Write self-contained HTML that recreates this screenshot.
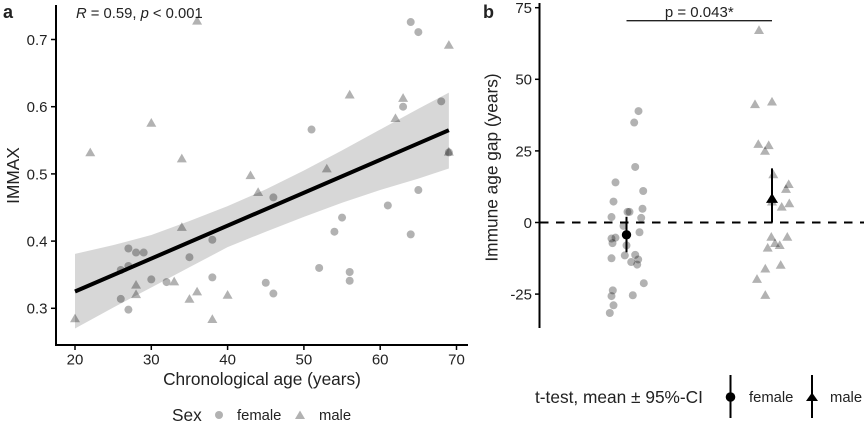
<!DOCTYPE html>
<html>
<head>
<meta charset="utf-8">
<style>
html,body{margin:0;padding:0;background:#fff;}
svg{display:block;}
text{font-family:"Liberation Sans",Arial,sans-serif;fill:#222;}
</style>
</head>
<body>
<svg id="fig" width="865" height="423" viewBox="0 0 865 423" xmlns="http://www.w3.org/2000/svg">
  <text x="3" y="18" font-size="18" font-weight="bold" fill="#111">a</text>
  <text x="483" y="18" font-size="18" font-weight="bold" fill="#111">b</text>
  <text x="76" y="18" font-size="14.8"><tspan font-style="italic">R</tspan> = 0.59, <tspan font-style="italic">p</tspan> &lt; 0.001</text>
  <text x="262" y="385" font-size="17.3" text-anchor="middle">Chronological age (years)</text>
  <text transform="translate(19,175.5) rotate(-90)" font-size="17.3" text-anchor="middle">IMMAX</text>
  <text transform="translate(497.5,167.5) rotate(-90)" font-size="17.3" text-anchor="middle">Immune age gap (years)</text>
  <g id="layerA"></g>
  <g id="layerB"></g>
  <g>
    <text x="172" y="421" font-size="17.3">Sex</text>
    <circle cx="219" cy="415" r="4" fill="#000" fill-opacity="0.3"/>
    <text x="237" y="420" font-size="14.8">female</text>
    <polygon points="295,419 305,419 300,410.5" fill="#000" fill-opacity="0.3"/>
    <text x="319" y="420" font-size="14.8">male</text>
  </g>
  <g>
    <text x="535" y="403" font-size="17.3">t-test, mean ± 95%-CI</text>
    <line x1="730.5" y1="375" x2="730.5" y2="418" stroke="#000" stroke-width="2"/>
    <circle cx="730.5" cy="397" r="4.8" fill="#000"/>
    <text x="749" y="402" font-size="14.8">female</text>
    <line x1="812" y1="375" x2="812" y2="418" stroke="#000" stroke-width="2"/>
    <polygon points="806,401 818,401 812,392.5" fill="#000"/>
    <text x="830" y="402" font-size="14.8">male</text>
  </g>
</svg>
<script>
// Panel a data
const femaleAges = [27,28,29,27,26,26,27,30,32,35,38,38,64,65,68,63,51,69,46,65,61,55,54,64,52,56,56,45,46];
const femaleImmax = [0.389,0.383,0.383,0.363,0.357,0.314,0.298,0.343,0.339,0.376,0.402,0.346,0.726,0.711,0.608,0.600,0.566,0.532,0.465,0.476,0.453,0.435,0.414,0.410,0.360,0.354,0.341,0.338,0.322];
const maleAges = [20,28,28,33,34,35,36,38,40,22,30,34,36,43,53,56,62,63,69,69,44];
const maleImmax = [0.285,0.335,0.321,0.340,0.421,0.314,0.325,0.284,0.320,0.532,0.576,0.523,0.728,0.498,0.508,0.618,0.583,0.613,0.692,0.533,0.473];
const fitAges = [20,69];
const fitValues = [0.325,0.565];
const bandAges = [20,25,30,35,40,45,50,55,60,65,69];
const bandUpper = [0.381,0.394,0.409,0.430,0.452,0.477,0.505,0.535,0.566,0.597,0.621];
const bandLower = [0.270,0.301,0.331,0.361,0.391,0.414,0.436,0.457,0.476,0.493,0.508];
const ageTicks = [20,30,40,50,60,70];
const immaxTicks = ["0.3","0.4","0.5","0.6","0.7"];

// Panel b data
const gapFemale = [14.0,11.0,7.3,4.8,3.7,3.7,1.9,1.6,-1.2,-3.4,-5.3,-5.6,-7.2,-8.0,-11.5,-11.3,-12.5,-12.9,-13.8,-14.7,-21.2,-23.7,-25.7,-25.4,-28.9,-31.6,38.9,34.9,19.4];
const jitterFemale = [-11,16.7,-13,16,1,3,-15,14.7,-3,13,-11,-15,-14,0,-1.7,8.7,-15,11.7,4.7,10.7,17.3,-13.7,-15,6.3,-13,-16.7,12,7.7,8.7];
const gapMale = [16.8,13.4,11.7,6.7,5.5,7.3,-5,-5,-7.2,-7.9,-8.8,-14.8,-16.1,-19.7,-25.3,67.2,41.3,42.2,27.4,27,25];
const jitterMale = [1.3,16.7,14,17.3,9.7,0,-0.7,15.3,3,7.7,-4.3,8.7,-6.7,-15,-6.7,-13,-17,0,-13.7,-3.3,-7];
const groupMeans = [-4.3,8.5];
const groupCiLow = [-10.4,0];
const groupCiHigh = [2.0,18.9];
const gapTicks = [-25,0,25,50,75];
const bracketLabel = "p = 0.043*";

// Scales
const xA = v => 75 + (v - 20) * 7.63;
const yA = v => 39.5 + (0.7 - v) * 672;
const yB = v => 222.5 - v * 2.864;
const xGroup = i => 626.5 + i * 145.5;

const NS = "http://www.w3.org/2000/svg";
function make(tag, parent, attrs, text) {
  const el = document.createElementNS(NS, tag);
  for (const k in attrs) el.setAttribute(k, attrs[k]);
  if (text !== undefined) el.textContent = text;
  parent.appendChild(el);
  return el;
}
function triPoints(x, y, w, up, down) {
  return (x - w) + "," + (y + down) + " " + (x + w) + "," + (y + down) + " " + x + "," + (y - up);
}

const A = document.getElementById("layerA");
const B = document.getElementById("layerB");
let el;

// Panel a points
femaleAges.forEach((a, i) => {
  el = make("circle", A, {cx: xA(a), cy: yA(femaleImmax[i]), r: 4, fill: "#000", "fill-opacity": 0.3});
  
  
});
maleAges.forEach((a, i) => {
  el = make("polygon", A, {points: triPoints(xA(a), yA(maleImmax[i]), 5, 4.8, 3.9), fill: "#000", "fill-opacity": 0.3});
  
  
});

// Confidence band
const upperPts = bandAges.map((a, i) => xA(a) + "," + yA(bandUpper[i]));
const lowerPts = bandAges.map((a, i) => xA(a) + "," + yA(bandLower[i])).reverse();
el = make("polygon", A, {points: upperPts.concat(lowerPts).join(" "), fill: "#000", "fill-opacity": 0.155});



// Fit line
el = make("line", A, {x1: xA(fitAges[0]), y1: yA(fitValues[0]), x2: xA(fitAges[1]), y2: yA(fitValues[1]), stroke: "#000", "stroke-width": 4});



// Panel a axes
el = make("line", A, {x1: 56, y1: 5, x2: 56, y2: 346, stroke: "#000", "stroke-width": 2});


el = make("line", A, {x1: 55, y1: 345, x2: 468, y2: 345, stroke: "#000", "stroke-width": 2});



ageTicks.forEach(t => {
  el = make("line", A, {x1: xA(t), y1: 345, x2: xA(t), y2: 350, stroke: "#000", "stroke-width": 1.5});
  
  
  el = make("text", A, {x: xA(t), y: 364.5, "font-size": 15, "text-anchor": "middle"}, String(t));
  
  
});
immaxTicks.forEach(t => {
  const v = parseFloat(t);
  el = make("line", A, {x1: 51, y1: yA(v), x2: 56, y2: yA(v), stroke: "#000", "stroke-width": 1.5});
  
  
  el = make("text", A, {x: 47.5, y: yA(v) + 5.4, "font-size": 15, "text-anchor": "end"}, t);
  
  
});

// Panel b points
gapFemale.forEach((g, i) => {
  el = make("circle", B, {cx: xGroup(0) + jitterFemale[i], cy: yB(g), r: 4, fill: "#000", "fill-opacity": 0.3});
  
  
});
gapMale.forEach((g, i) => {
  el = make("polygon", B, {points: triPoints(xGroup(1) + jitterMale[i], yB(g), 5, 4.8, 3.9), fill: "#000", "fill-opacity": 0.3});
  
  
});

// Zero reference line
el = make("line", B, {x1: 540, y1: yB(0), x2: 864, y2: yB(0), stroke: "#000", "stroke-width": 2, "stroke-dasharray": "8.5 7.5"});



// Means and confidence intervals
groupMeans.forEach((m, i) => {
  el = make("line", B, {x1: xGroup(i), y1: yB(groupCiLow[i]), x2: xGroup(i), y2: yB(groupCiHigh[i]), stroke: "#000", "stroke-width": 2});
  
  
});
el = make("circle", B, {cx: xGroup(0), cy: yB(groupMeans[0]), r: 4.7, fill: "#000"});


el = make("polygon", B, {points: triPoints(xGroup(1), yB(groupMeans[1]), 6, 5, 4.7), fill: "#000"});



// Significance bracket
el = make("line", B, {x1: xGroup(0), y1: 20.7, x2: xGroup(1), y2: 20.7, stroke: "#222", "stroke-width": 1.3});


el = make("text", B, {x: (xGroup(0) + xGroup(1)) / 2, y: 17, "font-size": 15, "text-anchor": "middle"}, bracketLabel);



// Panel b axis
el = make("line", B, {x1: 539.5, y1: 3, x2: 539.5, y2: 328, stroke: "#000", "stroke-width": 2});


gapTicks.forEach(t => {
  el = make("line", B, {x1: 535, y1: yB(t), x2: 540, y2: yB(t), stroke: "#000", "stroke-width": 1.5});
  
  
  el = make("text", B, {x: 532, y: yB(t) + 5.4, "font-size": 15, "text-anchor": "end"}, String(t));
  
  
});
</script>
</body>
</html>
